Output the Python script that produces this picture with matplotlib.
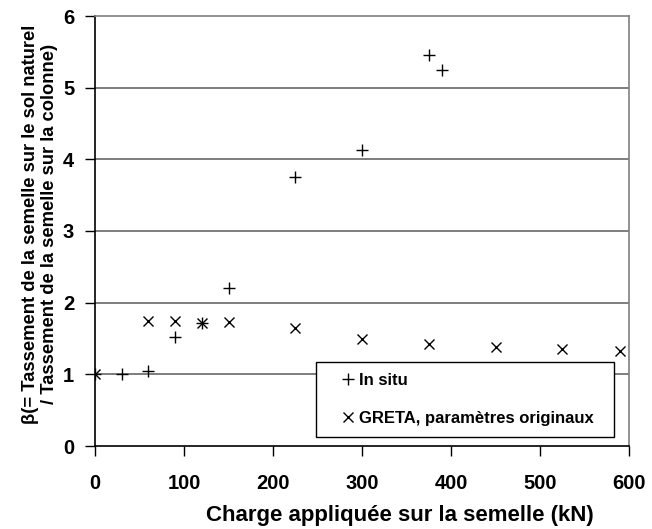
import matplotlib
matplotlib.use("Agg")
import matplotlib.pyplot as plt

plt.rcParams['font.family'] = ['Liberation Sans', 'DejaVu Sans']

# Measured settlement ratio (in situ)
insitu_load = [0, 30, 60, 90, 120, 150, 225, 300, 375, 390]
insitu_beta = [1.0, 1.0, 1.05, 1.52, 1.72, 2.2, 3.75, 4.13, 5.46, 5.25]

# GRETA simulation, original parameters
greta_load = [0, 60, 90, 120, 150, 225, 300, 375, 450, 525, 590]
greta_beta = [1.0, 1.75, 1.74, 1.72, 1.73, 1.64, 1.50, 1.43, 1.38, 1.35, 1.33]

x_ticks = [0, 100, 200, 300, 400, 500, 600]
y_ticks = [0, 1, 2, 3, 4, 5, 6]

W, H = 652, 529
fig = plt.figure(figsize=(W / 100, H / 100), dpi=100)
ax = fig.add_axes([95 / W, 1 - 446 / H, (629 - 95) / W, (446 - 16) / H])

for yv in y_ticks[1:-1]:
    ax.axhline(yv, color='#5a5a5a', lw=1.1, zorder=1)

ax.plot(insitu_load, insitu_beta, linestyle='none', marker='+', color='black',
        markersize=9, markeredgewidth=1.0, zorder=3, label='In situ')
ax.plot(greta_load, greta_beta, linestyle='none', marker='x', color='black',
        markersize=7, markeredgewidth=1.0, zorder=3,
        label='GRETA, paramètres originaux')

ax.set_xlim(0, 600)
ax.set_ylim(0, 6)
ax.set_xticks(x_ticks)
ax.set_yticks(y_ticks)
ax.set_xticklabels([str(v) for v in x_ticks], fontsize=14.5, fontweight='bold')
ax.set_yticklabels([str(v) for v in y_ticks], fontsize=14.5, fontweight='bold')
ax.tick_params(axis='x', direction='out', length=7, width=1, pad=13)
ax.tick_params(axis='y', direction='out', length=7, width=1, pad=8)

for side in ('left', 'bottom'):
    ax.spines[side].set_color('black')
    ax.spines[side].set_linewidth(1.2)
for side in ('top', 'right'):
    ax.spines[side].set_color('#808080')
    ax.spines[side].set_linewidth(1.2)

# axis titles placed in figure pixels
fig.text(400 / W, 1 - 515 / H, 'Charge appliquée sur la semelle (kN)',
         fontsize=16, fontweight='bold', ha='center', va='center')
fig.text(40 / W, 1 - 224 / H,
         'β(= Tassement de la semelle sur le sol naturel\n'
         '/ Tassement de la semelle sur la colonne)',
         fontsize=13.2, fontweight='bold', ha='center', va='center',
         rotation=90, linespacing=1.15, multialignment='center')

leg = ax.legend(loc='upper left',
                bbox_to_anchor=((316 - 95) / (629 - 95), (446 - 362) / (446 - 16),
                                (614 - 316) / (629 - 95), 0.0),
                mode='expand', prop={'weight': 'bold', 'size': 12},
                frameon=True, fancybox=False, shadow=False, borderpad=0.65,
                handlelength=2.5, handletextpad=-0.6, labelspacing=1.4,
                borderaxespad=0, numpoints=1)
leg.get_frame().set_edgecolor('black')
leg.get_frame().set_linewidth(1.0)
leg.get_frame().set_facecolor('white')
leg.get_frame().set_alpha(1)
leg.set_zorder(5)

fig.savefig('out.png', dpi=100)
